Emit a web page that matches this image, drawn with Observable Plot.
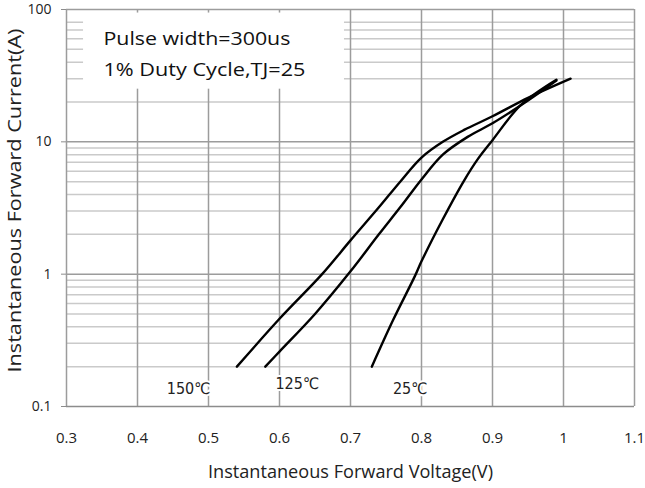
<!DOCTYPE html>
<html>
<head>
<meta charset="utf-8">
<script src="https://cdn.jsdelivr.net/npm/d3@7"></script>
<script src="https://cdn.jsdelivr.net/npm/@observablehq/plot@0.6"></script>
<style>
  html, body { margin: 0; padding: 0; background: #fff; }
  #chart svg { display: block; }
</style>
</head>
<body>
<div id="chart"></div>
<script>
// ---- data ----
const curve150 = [[0.54,0.2],[0.60,0.46],[0.66,1.0],[0.70,1.8],[0.74,3.2],[0.77,5.0],[0.80,7.6],[0.83,10.0],[0.86,12.3],[0.90,15.6],[0.95,21.5],[1.01,30]];
const curve125 = [[0.58,0.2],[0.60,0.26],[0.65,0.5],[0.70,1.05],[0.74,2.0],[0.77,3.2],[0.80,5.2],[0.83,8.0],[0.865,10.9],[0.90,13.8],[0.95,20.5],[0.99,29]];
const curve25  = [[0.73,0.2],[0.76,0.45],[0.79,0.95],[0.80,1.25],[0.83,2.6],[0.86,5.1],[0.88,7.5],[0.90,10.3],[0.94,19],[0.99,29.5]];
const seriesNames = ["150℃", "125℃", "25℃"];
const labelPos = [[0.472, 0.137], [0.625, 0.149], [0.784, 0.137]];

const xTicks = [0.3, 0.4, 0.5, 0.6, 0.7, 0.8, 0.9, 1.0, 1.1];
const xTickLabels = ["0.3","0.4","0.5","0.6","0.7","0.8","0.9","1","1.1"];
const yTicks = [0.1, 1, 10, 100];
const yTickLabels = ["0.1", "1", "10", "100"];
const yMajorGrid = [1, 10, 100];
const yMinorGrid = [0.2,0.3,0.4,0.5,0.6,0.7,0.8,0.9, 2,3,4,5,6,7,8,9, 20,30,40,50,60,70,80];
const xGrid = [0.4, 0.5, 0.6, 0.7, 0.8, 0.9, 1.0, 1.1];

const noteLines = ["Pulse width=300us", "1% Duty Cycle,TJ=25"];
const noteBox = {x1: 0.324, x2: 0.6915, y1: 25, y2: 94};
const noteTextPos = [[0.352, 59.4], [0.352, 35.1]];

const xTitle = "Instantaneous Forward Voltage(V)";
const yTitle = "Instantaneous Forward Current(A)";

// rendered text lengths (px) measured on the reference
const textWidths = {
  "Pulse width=300us": 187,
  "1% Duty Cycle,TJ=25": 202,
  "Instantaneous Forward Voltage(V)": 285,
  "Instantaneous Forward Current(A)": 344
};

// ---- build table ----
const rows = [];
[curve150, curve125, curve25].forEach((c, i) => c.forEach(([v, a]) => rows.push({series: seriesNames[i], v, a})));
const labels = seriesNames.map((s, i) => ({s, v: labelPos[i][0], a: labelPos[i][1]}));
const notes = noteLines.map((t, i) => ({t, v: noteTextPos[i][0], a: noteTextPos[i][1]}));
const fmtX = d => xTickLabels[xTicks.findIndex(t => Math.abs(t - d) < 1e-9)];
const fmtY = d => yTickLabels[yTicks.findIndex(t => Math.abs(t - d) < 1e-9 * t)];

const font = "'Open Sans', 'Noto Sans', sans-serif";

const chart = Plot.plot({
  width: 645,
  height: 488,
  marginTop: 9,
  marginBottom: 82,
  marginLeft: 66,
  marginRight: 11,
  style: {fontFamily: font, background: "#fff"},
  x: {type: "linear", domain: [0.3, 1.1]},
  y: {type: "log", domain: [0.1, 100]},
  marks: [
    Plot.ruleY(yMinorGrid, {stroke: "#cacaca", strokeWidth: 1.5}),
    Plot.ruleX(xGrid, {stroke: "#9c9c9c", strokeWidth: 1.5}),
    Plot.ruleY(yMajorGrid, {stroke: "#9c9c9c", strokeWidth: 1.5}),
    Plot.rect([noteBox], {x1: "x1", x2: "x2", y1: "y1", y2: "y2", fill: "#fff"}),
    Plot.ruleX([0.3], {stroke: "#9c9c9c", strokeWidth: 1.5}),
    Plot.ruleY([0.1], {stroke: "#8c8c8c", strokeWidth: 1.5}),
    Plot.axisX({ticks: xTicks, tickFormat: fmtX, tickSize: 0, tickPadding: 26, fontSize: 15, label: null, fill: "#222"}),
    Plot.axisY({ticks: yTicks, tickFormat: fmtY, tickSize: 5, tickPadding: 10, fontSize: 14, label: null, stroke: "#8c8c8c", fill: "#222"}),
    Plot.line(rows, {x: "v", y: "a", z: "series", stroke: "#000", strokeWidth: 2.4, curve: "catmull-rom"}),
    Plot.text(labels, {x: "v", y: "a", text: "s", fontSize: 16, fill: "#222", stroke: "#fff", strokeWidth: 4,
      fontFamily: "'Liberation Sans Narrow', 'DejaVu Sans Condensed', sans-serif"}),
    Plot.text(notes, {x: "v", y: "a", text: "t", fontSize: 18.5, fill: "#111", textAnchor: "start"}),
    Plot.text([xTitle], {frameAnchor: "bottom", lineAnchor: "middle", dy: 66, fontSize: 18, fill: "#222"}),
    Plot.text([yTitle], {frameAnchor: "left", textAnchor: "middle", lineAnchor: "middle", dx: -51, dy: -7.5, rotate: -90, fontSize: 18, fill: "#222"})
  ]
});
d3.select(chart).selectAll("text").each(function () {
  const w = textWidths[this.textContent];
  if (w) {
    this.setAttribute("textLength", w);
    this.setAttribute("lengthAdjust", "spacingAndGlyphs");
  }
});
document.getElementById("chart").appendChild(chart);
</script>
</body>
</html>
